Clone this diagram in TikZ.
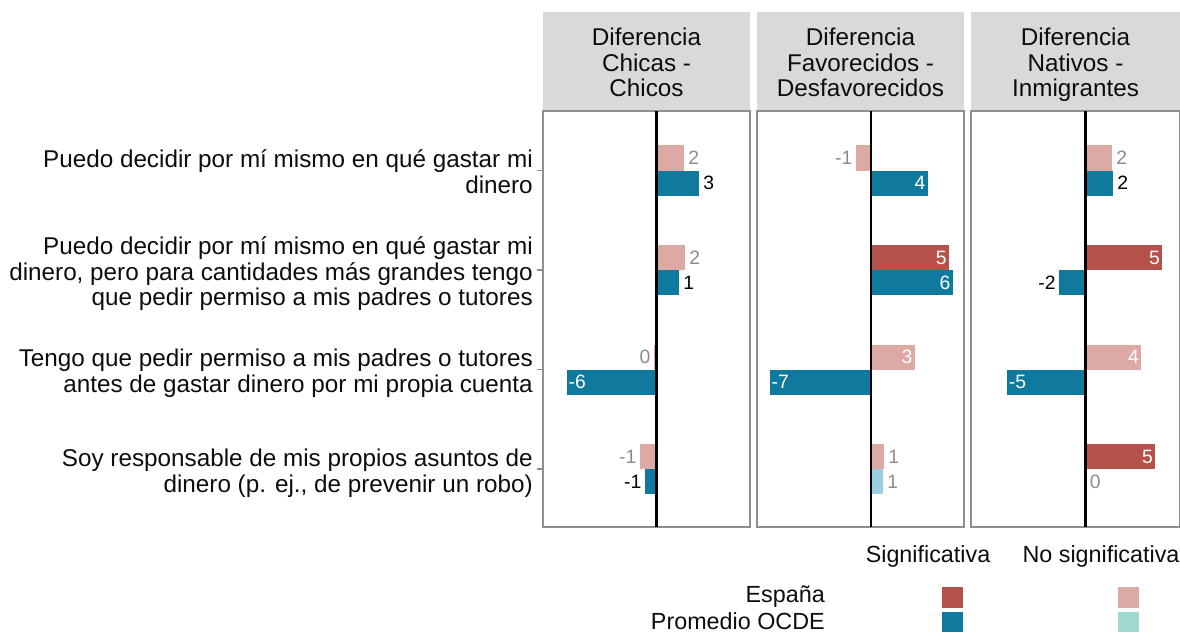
\documentclass[tikz,border=0pt]{standalone}
\usepackage{fontspec}
\setmainfont{Liberation Sans}
\usetikzlibrary{positioning}
\definecolor{espsig}{HTML}{B5534A}
\definecolor{espns}{HTML}{DCA9A4}
\definecolor{ocdesig}{HTML}{0F7A9E}
\definecolor{ocdens}{HTML}{99CFE1}
\definecolor{ocdekey}{HTML}{A0D9CE}
\definecolor{stripgrey}{HTML}{D9D9D9}
\definecolor{panelgrey}{HTML}{8F8F8F}
\definecolor{valgrey}{HTML}{8C8C8C}

\begin{document}
\begin{tikzpicture}[x=0.75pt,y=-0.75pt,
  txt/.style={font=\fontsize{18.2}{19.3}\selectfont, inner sep=0pt, text=black!95},
  legtxt/.style={font=\fontsize{17.5}{19.3}\selectfont, inner sep=0pt, text=black!95},
  strip/.style={fill=stripgrey},
  panel/.style={draw=panelgrey, line width=1pt},
  zero/.style={line width=2pt, black},
  tick/.style={draw=panelgrey, line width=1pt},
  val/.style={font=\fontsize{14.5}{16}\selectfont, inner sep=0pt},
  inpos/.style={anchor=east, xshift=-1.5pt},
  inneg/.style={anchor=west, xshift=1pt},
  outpos/.style={anchor=west, xshift=3pt},
  outneg/.style={anchor=east, xshift=-2.5pt},
  key/.style={minimum size=15.75pt, inner sep=0pt}]

\useasboundingbox (0,0) rectangle (1180,631);

% strips and panels
\fill[strip] (543,12) rectangle (750,110);
\fill[strip] (757,12) rectangle (964,110);
\fill[strip] (971,12) rectangle (1180,110);
\node[txt, align=center] (h1) at (646.5,66) {\strut Diferencia\\Chicas -\\Chicos\strut};
\node[txt, align=center] (h2) at (860.5,66) {\strut Diferencia\\Favorecidos -\\Desfavorecidos\strut};
\node[txt, align=center] (h3) at (1075.5,66) {\strut Diferencia\\Nativos -\\Inmigrantes\strut};
\draw[panel] (543,111) rectangle (750,527);
\draw[panel] (757,111) rectangle (964,527);
\draw[panel] (971,111) rectangle (1179.4,527);

% items
\node[txt, align=right, anchor=east] (q1) at (533,175.5) {\strut Puedo decidir por mí mismo en qué gastar mi\\dinero\strut};
\node[txt, align=right, anchor=east] (q2) at (533,275) {\strut Puedo decidir por mí mismo en qué gastar mi\\dinero, pero para cantidades más grandes tengo\\que pedir permiso a mis padres o tutores\strut};
\node[txt, align=right, anchor=east] (q3) at (533,374.5) {\strut Tengo que pedir permiso a mis padres o tutores\\antes de gastar dinero por mi propia cuenta\strut};
\node[txt, align=right, anchor=east] (q4) at (533,474) {\strut Soy responsable de mis propios asuntos de\\dinero (p. ej., de prevenir un robo)\strut};
\foreach \y in {170.5,270,369.5,469}
  \draw[tick] (536.5,\y) -- (542.5,\y);

% bars: zero/top/length/fill/value/label side/label colour
\foreach \z/\t/\len/\fc/\v/\lp/\tc [count=\k] in {
  656.7/145.5/27.3/espns/2/outpos/valgrey,
  656.7/170.5/42.3/ocdesig/3/outpos/black,
  656.7/245/28.3/espns/2/outpos/valgrey,
  656.7/270/22.3/ocdesig/1/outpos/black,
  656.7/344.5/-2.7/espns/0/outneg/valgrey,
  656.7/369.5/-89.7/ocdesig/-6/inneg/white,
  656.7/444/-16.7/espns/-1/outneg/valgrey,
  656.7/469/-11.7/ocdesig/-1/outneg/black,
  871/145.5/-15/espns/-1/outneg/valgrey,
  871/170.5/56.7/ocdesig/4/inpos/white,
  871/245/78/espsig/5/inpos/white,
  871/270/81.7/ocdesig/6/inpos/white,
  871/344.5/43.7/espns/3/inpos/white,
  871/369.5/-101/ocdesig/-7/inneg/white,
  871/444/13/espns/1/outpos/valgrey,
  871/469/12/ocdens/1/outpos/valgrey,
  1085.5/145.5/26.7/espns/2/outpos/valgrey,
  1085.5/170.5/27.7/ocdesig/2/outpos/black,
  1085.5/245/76.7/espsig/5/inpos/white,
  1085.5/270/-26.3/ocdesig/-2/outneg/black,
  1085.5/344.5/55.7/espns/4/inpos/white,
  1085.5/369.5/-78.3/ocdesig/-5/inneg/white,
  1085.5/444/69.7/espsig/5/inpos/white,
  1085.5/469/0/ocdens/0/outpos/valgrey}
{
  \fill[\fc] (\z,\t) rectangle ++(\len,25);
  \node[val, \lp, text=\tc] (v\k) at (\z+\len,\t+12.5) {\v};
}

\draw[zero] (656.7,111) -- (656.7,527);
\draw[zero] (871,111) -- (871,527);
\draw[zero] (1085.5,111) -- (1085.5,527);

% legend
\node[legtxt] (lsig) at (928,556) {Significativa};
\node[legtxt] (lns) at (1101,556) {No significativa};
\node[legtxt, anchor=east] (lesp) at (825,597) {España};
\node[legtxt, anchor=east] (locde) at (825,621) {Promedio OCDE};
\node[key, fill=espsig] (k1) at (952,597.5) {};
\node[key, fill=espns] (k2) at (1128,597.5) {};
\node[key, fill=ocdesig] (k3) at (952,622.5) {};
\node[key, fill=ocdekey] (k4) at (1128,622.5) {};
\end{tikzpicture}
\end{document}
